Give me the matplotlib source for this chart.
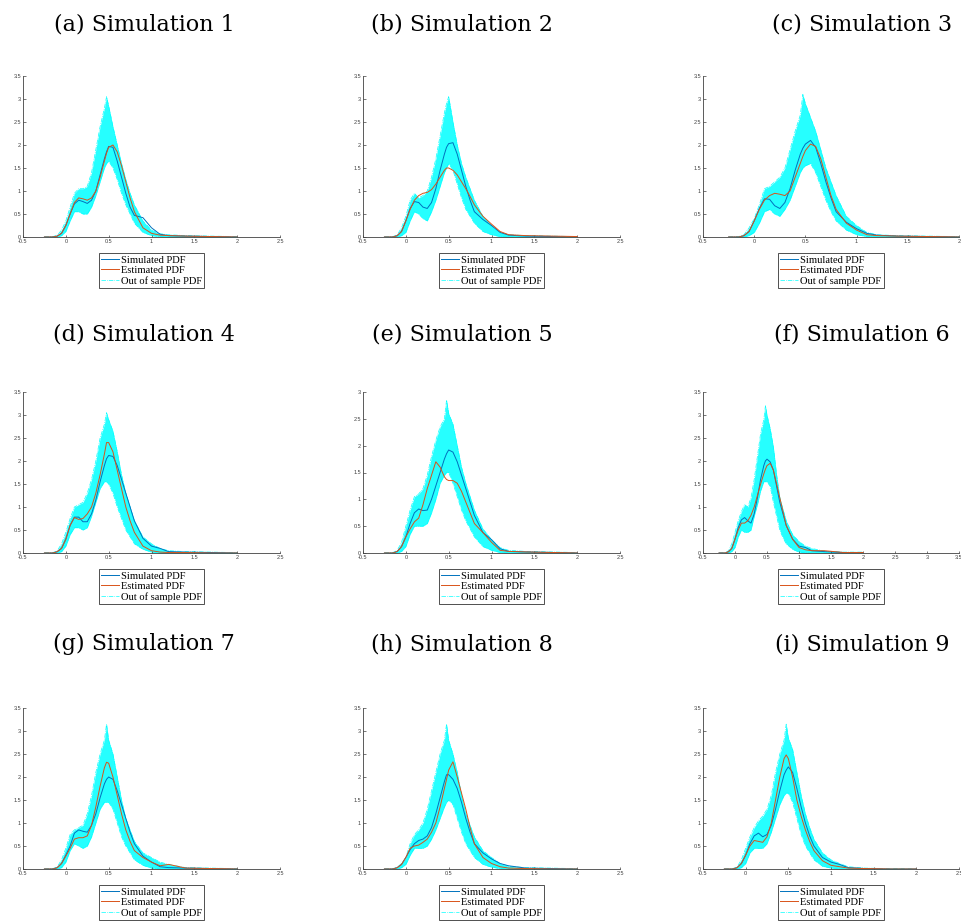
import numpy as np
import matplotlib
matplotlib.use("Agg")
import matplotlib.pyplot as plt
from matplotlib.ticker import FixedLocator, FuncFormatter

plt.rcParams["axes.unicode_minus"] = False

# common x grid of the read-off density values
X = [-0.25, -0.15, -0.1, -0.05, 0, 0.05, 0.1, 0.15, 0.2, 0.25, 0.3, 0.35, 0.4,
     0.45, 0.475, 0.5, 0.55, 0.6, 0.65, 0.7, 0.75, 0.8, 0.9, 1.0, 1.1, 1.2,
     1.4, 1.7, 2.0]

# (a)
SIM_A = [0, 0, 0.02, 0.08, 0.25, 0.5, 0.72, 0.8, 0.77, 0.73, 0.8, 1.0, 1.35, 1.7, 1.85, 1.97, 1.95, 1.65, 1.3, 0.95, 0.65, 0.47, 0.42, 0.2, 0.06, 0.03, 0.02, 0.01, 0]
EST_A = [0, 0, 0.02, 0.08, 0.25, 0.5, 0.75, 0.85, 0.83, 0.8, 0.85, 1.0, 1.3, 1.65, 1.82, 1.95, 2.0, 1.85, 1.55, 1.2, 0.85, 0.55, 0.2, 0.08, 0.04, 0.03, 0.02, 0.01, 0]
UP_A = [0, 0.01, 0.04, 0.15, 0.35, 0.65, 0.95, 1.05, 1.05, 1.1, 1.4, 1.9, 2.4, 2.8, 3.05, 2.85, 2.4, 2.0, 1.6, 1.25, 0.95, 0.7, 0.35, 0.15, 0.07, 0.05, 0.03, 0.02, 0.01]
LO_A = [0, 0, 0, 0.03, 0.12, 0.35, 0.55, 0.55, 0.5, 0.5, 0.65, 0.9, 1.2, 1.5, 1.6, 1.65, 1.5, 1.25, 0.95, 0.7, 0.5, 0.3, 0.1, 0.03, 0.01, 0, 0, 0, 0]
# (b)
SIM_B = [0, 0, 0.03, 0.12, 0.35, 0.62, 0.77, 0.75, 0.65, 0.62, 0.75, 1.05, 1.45, 1.8, 1.95, 2.03, 2.05, 1.8, 1.45, 1.1, 0.8, 0.55, 0.38, 0.25, 0.1, 0.04, 0.02, 0.01, 0]
EST_B = [0, 0, 0.03, 0.12, 0.35, 0.6, 0.8, 0.9, 0.95, 0.97, 1.03, 1.15, 1.3, 1.45, 1.5, 1.5, 1.45, 1.35, 1.2, 1.05, 0.88, 0.7, 0.45, 0.28, 0.12, 0.05, 0.03, 0.02, 0.01]
UP_B = [0, 0.01, 0.05, 0.2, 0.45, 0.8, 0.95, 0.85, 0.9, 1.0, 1.3, 1.7, 2.2, 2.7, 2.9, 3.05, 2.5, 2.0, 1.6, 1.3, 1.05, 0.8, 0.45, 0.25, 0.1, 0.05, 0.03, 0.02, 0.01]
LO_B = [0, 0, 0, 0.03, 0.1, 0.35, 0.55, 0.5, 0.4, 0.35, 0.55, 0.8, 1.1, 1.4, 1.5, 1.6, 1.45, 1.15, 0.85, 0.6, 0.45, 0.3, 0.12, 0.05, 0.01, 0, 0, 0, 0]
# (c)
SIM_C = [0, 0, 0.03, 0.12, 0.35, 0.62, 0.83, 0.82, 0.68, 0.62, 0.75, 1.05, 1.45, 1.8, 1.93, 2.02, 2.1, 1.95, 1.6, 1.2, 0.85, 0.55, 0.32, 0.18, 0.08, 0.04, 0.02, 0.01, 0]
EST_C = [0, 0, 0.03, 0.12, 0.35, 0.6, 0.8, 0.9, 0.95, 0.93, 0.9, 1.0, 1.3, 1.6, 1.75, 1.88, 2.02, 1.97, 1.7, 1.3, 0.9, 0.6, 0.3, 0.15, 0.05, 0.03, 0.02, 0.01, 0]
UP_C = [0, 0.01, 0.05, 0.2, 0.4, 0.7, 1.05, 1.1, 1.2, 1.3, 1.5, 1.9, 2.3, 2.65, 3.1, 2.9, 2.6, 2.3, 1.9, 1.5, 1.2, 0.9, 0.45, 0.25, 0.1, 0.05, 0.03, 0.02, 0.01]
LO_C = [0, 0, 0, 0.03, 0.1, 0.3, 0.55, 0.6, 0.5, 0.45, 0.6, 0.8, 1.1, 1.4, 1.5, 1.55, 1.6, 1.4, 1.1, 0.8, 0.55, 0.35, 0.15, 0.05, 0.01, 0, 0, 0, 0]
# (d)
SIM_D = [0, 0, 0.03, 0.1, 0.3, 0.6, 0.78, 0.78, 0.68, 0.68, 0.85, 1.15, 1.55, 1.9, 2.05, 2.12, 2.1, 1.9, 1.6, 1.3, 1.0, 0.7, 0.32, 0.15, 0.1, 0.03, 0.02, 0.01, 0]
EST_D = [0, 0, 0.03, 0.1, 0.3, 0.6, 0.77, 0.73, 0.75, 0.85, 1.0, 1.3, 1.7, 2.15, 2.4, 2.4, 2.2, 1.8, 1.4, 1.0, 0.7, 0.45, 0.15, 0.05, 0.02, 0.01, 0.01, 0, 0]
UP_D = [0, 0.01, 0.05, 0.2, 0.45, 0.75, 1.0, 1.05, 1.1, 1.3, 1.6, 2.0, 2.5, 2.8, 3.05, 2.9, 2.65, 2.2, 1.7, 1.3, 1.0, 0.7, 0.35, 0.2, 0.1, 0.05, 0.03, 0.02, 0.01]
LO_D = [0, 0, 0, 0.03, 0.15, 0.4, 0.55, 0.55, 0.5, 0.55, 0.8, 1.1, 1.4, 1.55, 1.55, 1.5, 1.3, 1.0, 0.75, 0.5, 0.35, 0.2, 0.08, 0.02, 0, 0, 0, 0, 0]
# (e)
SIM_E = [0, 0, 0.03, 0.12, 0.3, 0.55, 0.75, 0.82, 0.79, 0.8, 1.0, 1.25, 1.5, 1.75, 1.85, 1.92, 1.88, 1.7, 1.45, 1.2, 0.95, 0.7, 0.38, 0.25, 0.08, 0.03, 0.02, 0.01, 0]
EST_E = [0, 0, 0.03, 0.12, 0.3, 0.45, 0.58, 0.65, 0.9, 1.2, 1.45, 1.7, 1.6, 1.42, 1.37, 1.35, 1.35, 1.3, 1.15, 0.95, 0.75, 0.55, 0.38, 0.2, 0.05, 0.03, 0.02, 0.01, 0]
UP_E = [0, 0.01, 0.05, 0.2, 0.5, 0.8, 1.05, 1.1, 1.2, 1.45, 1.8, 2.1, 2.35, 2.5, 2.85, 2.6, 2.4, 2.0, 1.6, 1.3, 1.05, 0.8, 0.45, 0.25, 0.1, 0.05, 0.03, 0.02, 0.01]
LO_E = [0, 0, 0, 0.03, 0.12, 0.35, 0.5, 0.5, 0.5, 0.55, 0.75, 1.0, 1.3, 1.45, 1.5, 1.5, 1.3, 1.05, 0.8, 0.6, 0.45, 0.3, 0.12, 0.05, 0.01, 0, 0, 0, 0]
# (f)
SIM_F = [0, 0, 0.03, 0.1, 0.3, 0.55, 0.72, 0.77, 0.7, 0.65, 0.85, 1.2, 1.6, 1.9, 2.0, 2.04, 1.98, 1.8, 1.45, 1.1, 0.85, 0.6, 0.3, 0.15, 0.12, 0.05, 0.03, 0.01, 0]
EST_F = [0, 0, 0.03, 0.1, 0.3, 0.5, 0.65, 0.65, 0.7, 0.82, 1.0, 1.25, 1.5, 1.72, 1.82, 1.9, 1.95, 1.8, 1.5, 1.2, 0.9, 0.6, 0.3, 0.12, 0.07, 0.05, 0.05, 0.01, 0.01]
UP_F = [0, 0.01, 0.05, 0.2, 0.45, 0.7, 0.9, 1.05, 1.0, 1.2, 1.6, 2.1, 2.6, 2.9, 3.2, 3.0, 2.7, 2.3, 1.7, 1.2, 0.95, 0.7, 0.4, 0.25, 0.15, 0.1, 0.04, 0.02, 0.02]
LO_F = [0, 0, 0, 0.03, 0.12, 0.35, 0.5, 0.45, 0.45, 0.5, 0.8, 1.05, 1.35, 1.55, 1.55, 1.55, 1.45, 1.1, 0.8, 0.5, 0.33, 0.2, 0.08, 0.02, 0, 0, 0, 0, 0]
# (g)
SIM_G = [0, 0, 0.03, 0.12, 0.3, 0.5, 0.78, 0.85, 0.82, 0.8, 0.95, 1.2, 1.55, 1.85, 1.95, 2.0, 1.95, 1.7, 1.4, 1.1, 0.8, 0.55, 0.28, 0.15, 0.05, 0.03, 0.02, 0.01, 0]
EST_G = [0, 0, 0.03, 0.12, 0.28, 0.45, 0.65, 0.68, 0.68, 0.72, 0.95, 1.35, 1.8, 2.2, 2.32, 2.3, 2.0, 1.6, 1.2, 0.85, 0.6, 0.4, 0.25, 0.15, 0.07, 0.1, 0.02, 0.01, 0]
UP_G = [0, 0.01, 0.05, 0.2, 0.45, 0.75, 0.85, 0.9, 0.95, 1.2, 1.6, 2.1, 2.5, 2.8, 3.15, 2.8, 2.5, 2.0, 1.5, 1.1, 0.85, 0.6, 0.35, 0.25, 0.15, 0.1, 0.03, 0.02, 0.01]
LO_G = [0, 0, 0, 0.03, 0.15, 0.4, 0.55, 0.5, 0.45, 0.5, 0.7, 1.0, 1.3, 1.45, 1.45, 1.45, 1.3, 1.0, 0.7, 0.5, 0.35, 0.2, 0.08, 0.02, 0, 0, 0, 0, 0]
# (h)
SIM_H = [0, 0, 0.03, 0.1, 0.25, 0.42, 0.55, 0.62, 0.65, 0.72, 0.9, 1.2, 1.55, 1.9, 2.05, 2.05, 1.95, 1.75, 1.45, 1.1, 0.8, 0.55, 0.35, 0.22, 0.12, 0.07, 0.02, 0.01, 0]
EST_H = [0, 0, 0.03, 0.1, 0.25, 0.45, 0.5, 0.52, 0.58, 0.65, 0.8, 1.0, 1.35, 1.75, 1.95, 2.15, 2.33, 2.0, 1.65, 1.3, 0.9, 0.55, 0.25, 0.12, 0.05, 0.02, 0.01, 0, 0]
UP_H = [0, 0.01, 0.04, 0.12, 0.25, 0.55, 0.75, 0.85, 1.0, 1.3, 1.7, 2.1, 2.5, 2.8, 3.15, 2.8, 2.5, 2.1, 1.6, 1.2, 0.95, 0.7, 0.4, 0.25, 0.12, 0.06, 0.03, 0.02, 0.01]
LO_H = [0, 0, 0, 0.03, 0.1, 0.3, 0.45, 0.45, 0.45, 0.5, 0.65, 0.85, 1.1, 1.35, 1.45, 1.5, 1.4, 1.1, 0.8, 0.55, 0.4, 0.25, 0.1, 0.04, 0.01, 0, 0, 0, 0]
# (i)
SIM_I = [0, 0, 0.03, 0.12, 0.3, 0.55, 0.72, 0.78, 0.7, 0.75, 0.95, 1.3, 1.7, 2.05, 2.15, 2.22, 2.1, 1.75, 1.35, 1.0, 0.72, 0.5, 0.25, 0.15, 0.1, 0.03, 0.01, 0, 0]
EST_I = [0, 0, 0.03, 0.12, 0.3, 0.5, 0.62, 0.6, 0.58, 0.7, 1.0, 1.5, 2.0, 2.4, 2.48, 2.4, 2.0, 1.5, 1.15, 0.85, 0.6, 0.4, 0.18, 0.08, 0.05, 0.02, 0.01, 0, 0]
UP_I = [0, 0.01, 0.05, 0.2, 0.45, 0.7, 0.9, 1.05, 1.15, 1.3, 1.6, 2.1, 2.5, 2.8, 3.15, 2.85, 2.6, 2.1, 1.6, 1.2, 0.9, 0.65, 0.35, 0.2, 0.12, 0.05, 0.02, 0.01, 0]
LO_I = [0, 0, 0, 0.03, 0.12, 0.35, 0.45, 0.45, 0.45, 0.55, 0.8, 1.1, 1.4, 1.6, 1.65, 1.65, 1.45, 1.1, 0.75, 0.5, 0.35, 0.2, 0.06, 0.02, 0, 0, 0, 0, 0]

TITLES = ["(a) Simulation 1", "(b) Simulation 2", "(c) Simulation 3",
          "(d) Simulation 4", "(e) Simulation 5", "(f) Simulation 6",
          "(g) Simulation 7", "(h) Simulation 8", "(i) Simulation 9"]
XMAX = [2.5, 2.5, 2.0, 2.5, 2.5, 3.5, 2.5, 2.5, 2.5]
YMAX = [3.5, 3.5, 3.5, 3.5, 3.0, 3.5, 3.5, 3.5, 3.5]
LABELS = ["Simulated PDF", "Estimated PDF", "Out of sample PDF"]

panels = [(SIM_A, EST_A, UP_A, LO_A), (SIM_B, EST_B, UP_B, LO_B),
          (SIM_C, EST_C, UP_C, LO_C), (SIM_D, EST_D, UP_D, LO_D),
          (SIM_E, EST_E, UP_E, LO_E), (SIM_F, EST_F, UP_F, LO_F),
          (SIM_G, EST_G, UP_G, LO_G), (SIM_H, EST_H, UP_H, LO_H),
          (SIM_I, EST_I, UP_I, LO_I)]

W, H = 961, 922
lefts = [23, 363, 703]
widths = [257, 257, 256]
tops = [76, 392, 708]
ax_h = 161
title_x = [144, 462, 862]
title_y = [25, 334, 644]

BLUE = "#0072BD"
ORANGE = "#D95319"
CYAN = "#00FFFF"
AXC = "#404040"

fig = plt.figure(figsize=(W / 100, H / 100), dpi=100)

for k, (sim, est, up, lo) in enumerate(panels):
    r, c = divmod(k, 3)
    ax = fig.add_axes([lefts[c] / W, 1 - (tops[r] + ax_h) / H,
                       widths[c] / W, ax_h / H])
    ax.fill_between(X, lo, up, color=CYAN, alpha=0.85, lw=0, zorder=1)
    oos, = ax.plot(X, up, color=CYAN, lw=0.5, ls="-.", zorder=1.2)
    ax.plot(X, lo, color=CYAN, lw=0.5, ls="-.", zorder=1.2)
    s, = ax.plot(X, sim, color=BLUE, lw=0.7, zorder=2)
    e, = ax.plot(X, est, color=ORANGE, lw=0.7, zorder=2.1)

    ax.set_xlim(-0.5, XMAX[k])
    ax.set_ylim(0, YMAX[k])
    ax.xaxis.set_major_locator(FixedLocator(np.arange(-0.5, XMAX[k] + 0.01, 0.5)))
    ax.yaxis.set_major_locator(FixedLocator(np.arange(0, YMAX[k] + 0.01, 0.5)))
    fmt = FuncFormatter(lambda v, _: f"{v:g}")
    ax.xaxis.set_major_formatter(fmt)
    ax.yaxis.set_major_formatter(fmt)
    for sp in ["top", "right"]:
        ax.spines[sp].set_visible(False)
    for sp in ["left", "bottom"]:
        ax.spines[sp].set_color(AXC)
        ax.spines[sp].set_linewidth(0.6)
    ax.tick_params(direction="in", length=1.8, width=0.5, color=AXC,
                   labelsize=4, labelcolor=AXC, pad=1.5)
    for lab in ax.get_xticklabels() + ax.get_yticklabels():
        lab.set_family("Liberation Sans")

    leg = ax.legend([s, e, oos], LABELS, loc="upper center",
                    bbox_to_anchor=(0.5, -0.1), fancybox=False,
                    framealpha=1, edgecolor="#333333",
                    prop={"family": "Liberation Serif", "size": 7.6},
                    handlelength=1.7, handletextpad=0.2, borderpad=0.2,
                    labelspacing=0.1, borderaxespad=0)
    leg.get_frame().set_linewidth(0.6)

    fig.text(title_x[c] / W, 1 - title_y[r] / H, TITLES[k], ha="center",
             va="center", family="DejaVu Serif", fontsize=16)

fig.savefig("out.png", dpi=100)
